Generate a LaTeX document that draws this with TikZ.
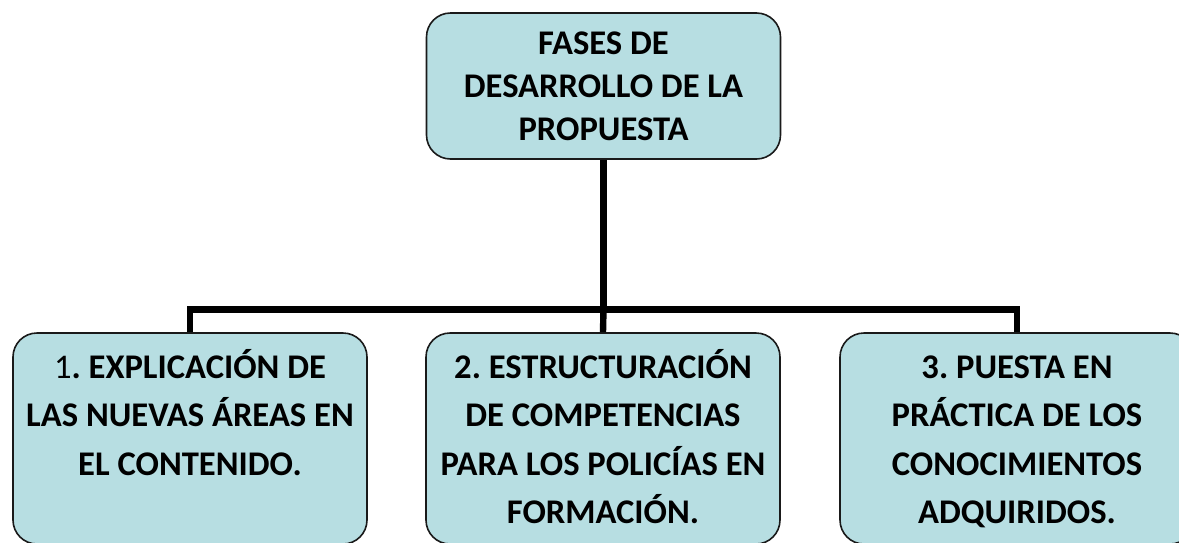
\documentclass[tikz,border=0pt]{standalone}
\usepackage{fontspec}
\setmainfont{Carlito}
\usepackage{tikz}
\usetikzlibrary{positioning,calc}
\definecolor{boxfill}{HTML}{B7DEE2}
\definecolor{boxline}{HTML}{1A1A1A}
\frenchspacing

\begin{document}
\begin{tikzpicture}[x=0.5pt, y=-0.5pt,
  phase/.style={rectangle, rounded corners=12pt, draw=boxline, fill=boxfill, line width=0.8pt, minimum width=177pt, inner sep=0pt},
  title/.style={align=center, font=\fontsize{17.3pt}{21.6pt}\selectfont\bfseries, inner sep=0pt},
  phasetext/.style={align=center, anchor=north, font=\fontsize{17.3pt}{24.2pt}\selectfont\bfseries, inner sep=0pt},
  link/.style={line width=3.2pt, black}
]
\useasboundingbox (0,0) rectangle (1179,542);

% boxes
\node[phase, minimum height=73pt] (root) at (603.5,86) {};
\node[title] (roottext) at (root) {FASES DE\\DESARROLLO DE LA\\PROPUESTA};

\node[phase, minimum height=105.5pt] (explic) at (190,438.5) {};
\node[phase, minimum height=105.5pt] (estruc) at (603,438.5) {};
\node[phase, minimum height=105.5pt] (puesta) at (1017,438.5) {};

\node[phasetext] (explictext) at (190,346) {\rule{0pt}{16pt}{\mdseries 1}. EXPLICACIÓN DE\\LAS NUEVAS ÁREAS EN\\EL CONTENIDO.};
\node[phasetext] (estructext) at (603,346) {\rule{0pt}{16pt}2. ESTRUCTURACIÓN\\DE COMPETENCIAS\\PARA LOS POLICÍAS EN\\FORMACIÓN.};
\node[phasetext] (puestatext) at (1017,346) {\rule{0pt}{16pt}3. PUESTA EN\\PRÁCTICA DE LOS\\CONOCIMIENTOS\\ADQUIRIDOS.};

% connectors
\coordinate (bus) at (603.5,309.5);
\draw[link] (root.south) -- (bus);
\draw[link] (explic.north) |- (bus) -| (puesta.north);
\draw[link] (bus) -- (estruc.north);
\end{tikzpicture}
\end{document}
